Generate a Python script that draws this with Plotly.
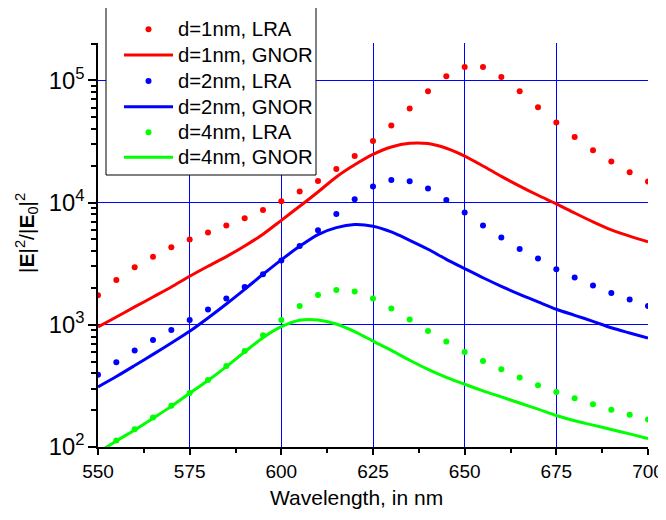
import plotly.graph_objects as go

# wavelength grid, nm (both LRA points and GNOR curves)
wl = [550, 555, 560, 565, 570, 575, 580, 585, 590, 595, 600, 605, 610, 615, 620, 625,
      630, 635, 640, 645, 650, 655, 660, 665, 670, 675, 680, 685, 690, 695, 700]

# |E|^2/|E0|^2, LRA (dots)
lra_1nm = [1743, 2327, 2960, 3600, 4306, 4980, 5682, 6484, 7436, 8696, 10250, 12300, 15030,
           18840, 24060, 31920, 42660, 58780, 81470, 108100, 128800, 128800, 106600, 81470,
           60240, 45140, 34430, 26790, 21660, 17700, 14850]
lra_2nm = [391, 493, 615, 751, 906, 1095, 1331, 1638, 2039, 2589, 3352, 4414, 5933, 8067,
           10640, 13520, 15310, 14940, 13020, 10500, 8280, 6480, 5172, 4170, 3483, 2845,
           2434, 2094, 1820, 1608, 1425]
lra_4nm = [None, 113, 140, 174, 218, 277, 353, 460, 610, 820, 1095, 1425, 1754, 1927, 1870,
           1638, 1357, 1103, 890, 729, 599, 506, 432, 370, 320, 282, 250, 224, 202, 184, 168]

# GNOR (solid curves)
gnor_1nm = [960, 1159, 1400, 1689, 2037, 2495, 3013, 3615, 4415, 5510, 7160, 9330, 12220,
            16220, 20400, 24800, 28500, 30550, 30400, 27860, 24040, 19950, 16400, 13650,
            11480, 9770, 8220, 6950, 5970, 5310, 4765]
gnor_2nm = [310, 377, 464, 573, 710, 885, 1137, 1480, 1952, 2590, 3400, 4385, 5470, 6240,
            6610, 6400, 5750, 4910, 4150, 3435, 2884, 2426, 2066, 1776, 1542, 1340, 1196,
            1068, 945, 857, 780]
gnor_4nm = [90, 112, 138, 172, 215, 275, 350, 455, 600, 785, 965, 1090, 1095, 1015, 879,
            736, 618, 513, 432, 372, 326, 288, 257, 229, 204, 181, 164, 151, 139, 128, 117]

font = "Arial, Liberation Sans, sans-serif"
colors = ["#ff0000", "#0000ff", "#00ff00"]
names = ["d=1nm", "d=2nm", "d=4nm"]

fig = go.Figure()
for name, lra, gnor, col in zip(names, [lra_1nm, lra_2nm, lra_4nm],
                                [gnor_1nm, gnor_2nm, gnor_4nm], colors):
    fig.add_trace(go.Scatter(x=wl, y=gnor, mode="lines", name=name + ", GNOR",
                             line=dict(color=col, width=3, shape="spline", smoothing=0.8)))
    fig.add_trace(go.Scatter(x=wl, y=lra, mode="markers", name=name + ", LRA",
                             marker=dict(color=col, size=6)))

# plot area in page pixels: x 98..648, y 43..447 (page body adds an 8px offset)
def px(x):
    return (x - 98) / 550

def py(y):
    return (447 - y) / 404

# legend drawn by hand to match the original box
shapes = [dict(type="rect", xref="paper", yref="paper", layer="above",
               x0=px(106), x1=px(316), y0=py(175), y1=py(7),
               fillcolor="white", line=dict(color="black", width=1))]
annotations = []
rows = [29.3, 55, 81, 106.7, 132.3, 157.3]
i = 0
for name, col in zip(names, colors):
    for kind in ["LRA", "GNOR"]:
        yy = py(rows[i])
        if kind == "LRA":
            shapes.append(dict(type="circle", xref="paper", yref="paper", layer="above",
                               xsizemode="pixel", ysizemode="pixel",
                               xanchor=px(148.5), yanchor=yy, x0=-3, x1=3, y0=-3, y1=3,
                               fillcolor=col, line=dict(width=0)))
        else:
            shapes.append(dict(type="line", xref="paper", yref="paper", layer="above",
                               x0=px(124), x1=px(173), y0=yy, y1=yy,
                               line=dict(color=col, width=3)))
        annotations.append(dict(text=name + ", " + kind, xref="paper", yref="paper",
                                x=px(175.5), y=yy, xanchor="left", yanchor="middle",
                                showarrow=False, font=dict(size=20.3)))
        i += 1

annotations.append(dict(text="Wavelength, in nm", xref="paper", yref="paper",
                        x=px(356), y=py(497), xanchor="center", yanchor="middle",
                        showarrow=False, font=dict(size=21)))
annotations.append(dict(text="|<b>E</b>|<sup>2</sup>/|<b>E</b><sub>0</sub>|<sup>2</sup>",
                        xref="paper", yref="paper", x=px(26), y=py(233),
                        xanchor="center", yanchor="middle", textangle=-90,
                        showarrow=False, font=dict(size=21)))

fig.update_layout(
    width=658, height=512,
    margin=dict(l=90, r=18, t=35, b=73, autoexpand=False),
    plot_bgcolor="white", paper_bgcolor="white",
    font=dict(family=font, color="black", size=19),
    showlegend=False,
    shapes=shapes,
    annotations=annotations,
)
fig.update_xaxes(
    range=[550, 700], dtick=25, tick0=550, automargin=False,
    showline=True, linecolor="black", linewidth=1.5, mirror=False,
    ticks="outside", ticklen=6, tickwidth=1.5, tickcolor="black",
    minor=dict(ticks="outside", ticklen=4, dtick=12.5, tickcolor="black", showgrid=False),
    showgrid=True, gridcolor="#0000ff", gridwidth=1, zeroline=False,
)
fig.update_yaxes(
    type="log", range=[2, 5.306], dtick=1, exponentformat="power", automargin=False,
    showline=True, linecolor="black", linewidth=1.5, mirror=False,
    ticks="outside", ticklen=8, tickwidth=1.5, tickcolor="black",
    minor=dict(ticks="outside", ticklen=5, dtick="D1", tickcolor="black", showgrid=False),
    showgrid=True, gridcolor="#0000ff", gridwidth=1, zeroline=False,
)

fig.write_html("out.html")
